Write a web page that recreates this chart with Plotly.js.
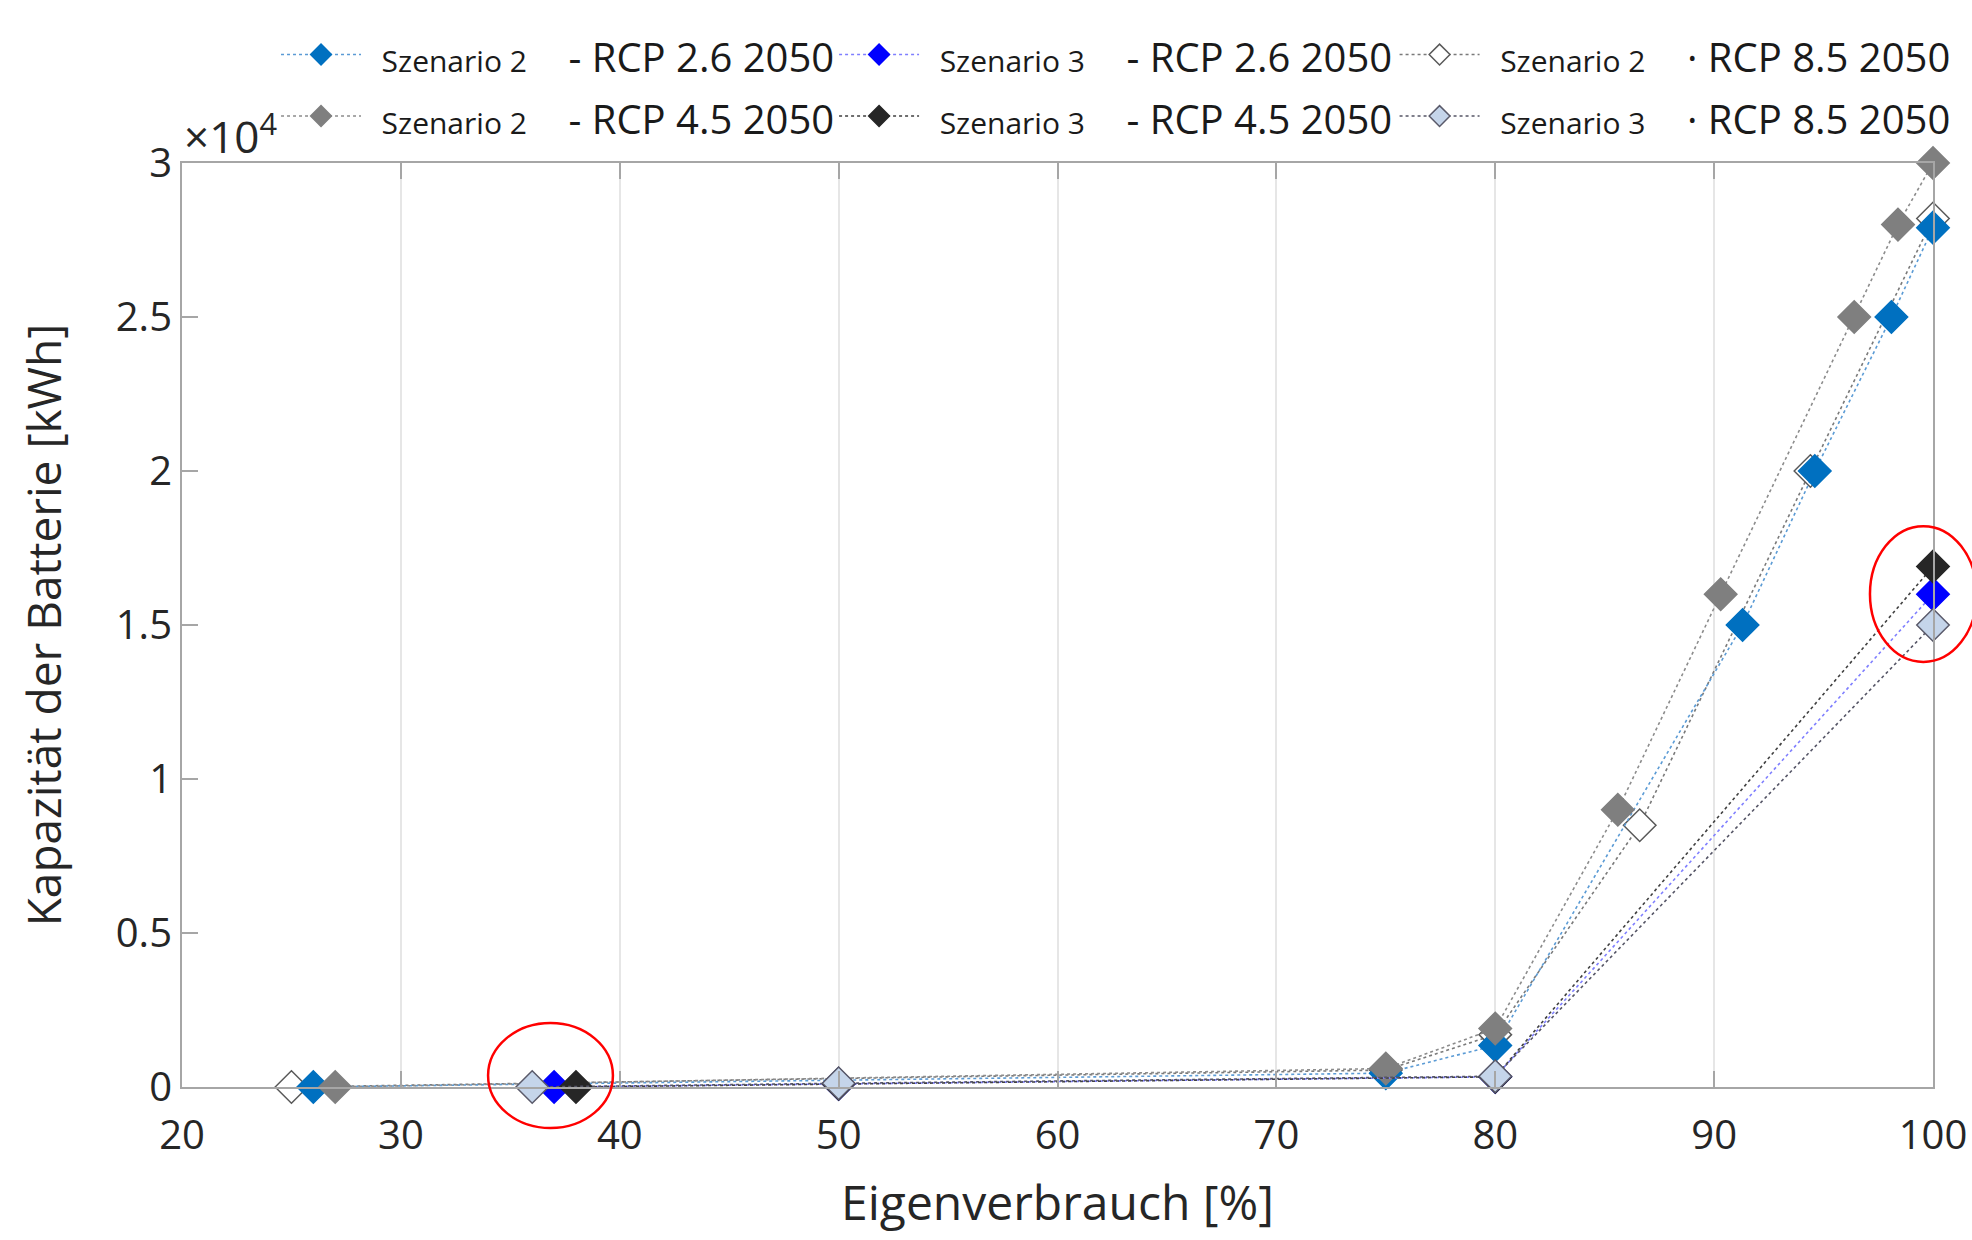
<!DOCTYPE html>
<html>
<head>
<meta charset="utf-8">
<script src="https://cdn.plot.ly/plotly-3.0.1.min.js"></script>
<style>html,body{margin:0;padding:0;background:#fff;}#chart{width:1972px;height:1240px;}</style>
</head>
<body>
<div id="chart"></div>
<script>
// ---- Data ----
const seriesNames = [
  "Szenario 2|- RCP 2.6 2050",
  "Szenario 2|- RCP 4.5 2050",
  "Szenario 3|- RCP 2.6 2050",
  "Szenario 3|- RCP 4.5 2050",
  "Szenario 2|· RCP 8.5 2050",
  "Szenario 3|· RCP 8.5 2050"
];

const s2_rcp26_x = [26, 75, 80, 91.3, 94.6, 98.1, 100];
const s2_rcp26_y = [0, 450, 1350, 15000, 20000, 25000, 27900];

const s2_rcp45_x = [27, 75, 80, 85.6, 90.3, 96.4, 98.4, 100];
const s2_rcp45_y = [0, 600, 1900, 9000, 16000, 25000, 28000, 30000];

const s3_rcp26_x = [37, 50, 80, 100];
const s3_rcp26_y = [0, 100, 330, 16000];

const s3_rcp45_x = [38, 50, 80, 100];
const s3_rcp45_y = [0, 100, 330, 16900];

const s2_rcp85_x = [25, 75, 80, 86.6, 94.4, 100];
const s2_rcp85_y = [0, 550, 1700, 8500, 20000, 28200];

const s3_rcp85_x = [36, 50, 80, 100];
const s3_rcp85_y = [0, 120, 350, 15000];

const xTickVals = [20, 30, 40, 50, 60, 70, 80, 90, 100];
const yTickVals = [0, 5000, 10000, 15000, 20000, 25000, 30000];
const yTickText = ["0", "0.5", "1", "1.5", "2", "2.5", "3"];

// ---- Helpers ----
const NB = "\u00A0";
function legendLabel(name) {
  const parts = name.split("|");
  return '<span style="font-size:30px">' + NB + NB + parts[0] + '</span>' +
         '<span style="font-size:40px">' + NB.repeat(4) + parts[1] + '</span>';
}

function mk(name, x, y, fill, edge, lineColor, legendId, rank) {
  return {
    type: "scatter",
    mode: "lines+markers",
    name: legendLabel(name),
    x: x, y: y,
    legend: legendId,
    legendrank: rank,
    cliponaxis: false,
    line: {color: lineColor, width: 1.6, dash: "dot"},
    marker: {symbol: "diamond", size: 25, color: fill, line: {color: edge, width: 1.5}}
  };
}

// drawing order follows the overlaps seen in the reference
const traces = [
  mk(seriesNames[4], s2_rcp85_x, s2_rcp85_y, "#ffffff", "#595959", "#7a7a7a", "legend3", 1),
  mk(seriesNames[0], s2_rcp26_x, s2_rcp26_y, "#0070c0", "#0070c0", "#5b9bd5", "legend", 1),
  mk(seriesNames[1], s2_rcp45_x, s2_rcp45_y, "#7f7f7f", "#7f7f7f", "#8c8c8c", "legend", 2),
  mk(seriesNames[2], s3_rcp26_x, s3_rcp26_y, "#0000ff", "#0000ff", "#7f7fff", "legend2", 1),
  mk(seriesNames[3], s3_rcp45_x, s3_rcp45_y, "#262626", "#262626", "#404040", "legend2", 2),
  mk(seriesNames[5], s3_rcp85_x, s3_rcp85_y, "#c5d5ea", "#5a5a6a", "#555566", "legend3", 2)
];

const FONT = "'Open Sans', 'Noto Sans', sans-serif";
const AX = "#a6a6a6";

function legendAt(x) {
  return {
    orientation: "v",
    x: x, xanchor: "left",
    y: 1.1561, yanchor: "top",
    itemwidth: 80,
    font: {family: FONT, size: 45, color: "#1a1a1a"},
    bgcolor: "rgba(255,255,255,0)",
    tracegroupgap: 0
  };
}

const layout = {
  width: 1972, height: 1240,
  margin: {l: 182, r: 39, t: 163, b: 153},
  paper_bgcolor: "#ffffff",
  plot_bgcolor: "#ffffff",
  font: {family: FONT, color: "#262626"},
  showlegend: true,
  legend: legendAt(0.0537),
  legend2: legendAt(0.3724),
  legend3: legendAt(0.6925),
  xaxis: {
    range: [20, 100],
    tickvals: xTickVals,
    ticks: "inside", ticklen: 16, tickwidth: 2, tickcolor: AX,
    showline: true, linecolor: AX, linewidth: 2, mirror: "ticks",
    showgrid: true, gridcolor: "#e6e6e6", gridwidth: 2,
    zeroline: false,
    ticklabelstandoff: 12,
    tickfont: {family: FONT, size: 40, color: "#262626"},
    title: {text: "Eigenverbrauch [%]", font: {family: FONT, size: 48, color: "#262626"}, standoff: 26}
  },
  yaxis: {
    range: [0, 30000],
    tickvals: yTickVals, ticktext: yTickText,
    ticks: "inside", ticklen: 16, tickwidth: 2, tickcolor: AX,
    showline: true, linecolor: AX, linewidth: 2, mirror: true,
    showgrid: false, zeroline: false,
    tickfont: {family: FONT, size: 40, color: "#262626"},
    title: {text: "Kapazität der Batterie [kWh]", font: {family: FONT, size: 46, color: "#262626"}, standoff: 40}
  },
  annotations: [
    {xref: "paper", yref: "paper", x: 0, y: 1.0, xanchor: "left", yanchor: "bottom",
     xshift: 0, yshift: -5, showarrow: false, text: "×10<sup>4</sup>",
     font: {family: FONT, size: 44, color: "#262626"}}
  ],
  shapes: [
    {type: "circle", xref: "paper", yref: "paper", x0: 0.1748, x1: 0.2461, y0: -0.0444, y1: 0.0693,
     line: {color: "#ff0000", width: 2.5}, layer: "above"},
    {type: "circle", xref: "paper", yref: "paper", x0: 0.964, x1: 1.025, y0: 0.46, y1: 0.607,
     line: {color: "#ff0000", width: 2.5}, layer: "above"}
  ]
};

Plotly.newPlot("chart", traces, layout, {displayModeBar: false, staticPlot: true});
</script>
</body>
</html>
